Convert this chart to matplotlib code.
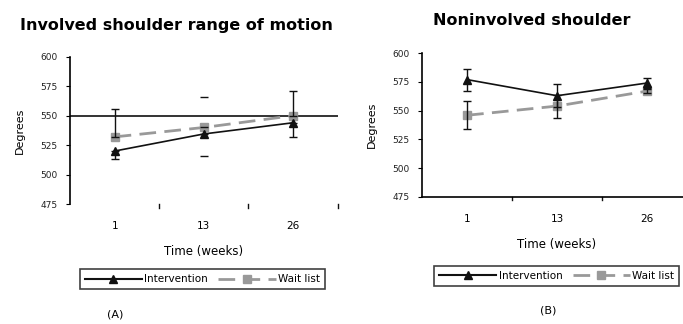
import numpy as np
import matplotlib
matplotlib.use("Agg")
import matplotlib.pyplot as plt
from matplotlib.lines import Line2D

weeks = ["1", "13", "26"]
y_ticks = [475, 500, 525, 550, 575, 600]

# (A) involved shoulder
inv_int = [520, 534.5, 544]
inv_int_err = [7, 19, 12]          # drawn downwards
inv_wait = [532, 540, 550]
inv_wait_err = [24, 25.5, 21]      # drawn upwards

# (B) noninvolved shoulder
non_int = [577, 563, 574]
non_int_err = [9.5, 10, 4]
non_wait = [546, 554, 567]
non_wait_err = [12, 10, 2]

plt.rcParams['font.family'] = ['DejaVu Sans']
fig = plt.figure(figsize=(6.83, 3.24), dpi=100)
x = np.arange(1, len(weeks) + 1)

blk = "#111111"
gry = "#999999"


def style_axes(ax):
    ax.set_xlim(0.5, 3.5)
    ax.set_ylim(475, 600)
    ax.set_yticks(y_ticks)
    ax.set_yticklabels([str(v) for v in y_ticks], fontsize=6.5, color="#222222")
    ax.set_xticks(x)
    ax.set_xticklabels(weeks, fontsize=7.5)
    ax.tick_params(axis="x", length=0, pad=12)
    ax.tick_params(axis="y", length=3, width=0.8, pad=6)
    for s in ["top", "right"]:
        ax.spines[s].set_visible(False)
    ax.spines["left"].set_linewidth(1.2)
    ax.set_xlabel("Time (weeks)", fontsize=8.5, labelpad=10)
    ax.set_ylabel("Degrees", fontsize=8, labelpad=11)
    # category boundary ticks
    for b in [1.5, 2.5, 3.5]:
        ax.plot([b, b], [475, 472], color=blk, lw=1, clip_on=False)


# ---------------- (A)
axA = fig.add_axes([0.1025, 0.37, 0.392, 0.455])
style_axes(axA)
axA.spines["bottom"].set_visible(False)
axA.axhline(550, color=blk, lw=1.2, zorder=1)

axA.plot(x, inv_wait, color=gry, lw=2, ls=(0, (6, 3)), marker="s", ms=6, zorder=2)
axA.plot(x, inv_int, color=blk, lw=1.2, marker="^", ms=6, zorder=3)
for i in range(len(x)):
    elw = 0 if i == 1 else 1
    axA.errorbar(x[i], inv_int[i], yerr=[[inv_int_err[i]], [0]], fmt="none",
                 ecolor=blk, elinewidth=elw, capsize=3, capthick=1, zorder=4)
    axA.errorbar(x[i], inv_wait[i], yerr=[[0], [inv_wait_err[i]]], fmt="none",
                 ecolor=blk, elinewidth=elw, capsize=3, capthick=1, zorder=4)

# ---------------- (B)
axB = fig.add_axes([0.618, 0.392, 0.395, 0.444])
style_axes(axB)
axB.spines["bottom"].set_linewidth(1.2)

axB.plot(x, non_wait, color=gry, lw=2, ls=(0, (6, 3)), marker="s", ms=6, zorder=2)
axB.plot(x, non_int, color=blk, lw=1.2, marker="^", ms=6, zorder=3)
axB.errorbar(x, non_int, yerr=non_int_err, fmt="none", ecolor=blk,
             elinewidth=1, capsize=3, capthick=1, zorder=4)
axB.errorbar(x, non_wait, yerr=non_wait_err, fmt="none", ecolor=blk,
             elinewidth=1, capsize=3, capthick=1, zorder=4)

# titles
fig.text(0.258, 0.92, "Involved shoulder range of motion", ha="center",
         va="center", fontsize=11.5, fontweight="bold")
fig.text(0.778, 0.937, "Noninvolved shoulder", ha="center",
         va="center", fontsize=11.5, fontweight="bold")

# legends
handles = [Line2D([], [], color=blk, lw=1.5, marker="^", ms=6),
           Line2D([], [], color=gry, lw=2, ls=(0, (6, 3)), marker="s", ms=6)]
labels = ["Intervention", "Wait list"]
for cx, cy in [(0.296, 0.138), (0.815, 0.148)]:
    leg = fig.legend(handles, labels, loc="center", bbox_to_anchor=(cx, cy),
                     ncol=2, fontsize=7.5, frameon=True, fancybox=False,
                     handlelength=5.5, columnspacing=1.0, handletextpad=0.2,
                     borderpad=0.5)
    leg.get_frame().set_edgecolor(blk)
    leg.get_frame().set_linewidth(1.2)

fig.text(0.168, 0.028, "(A)", ha="center", va="center", fontsize=8)
fig.text(0.802, 0.043, "(B)", ha="center", va="center", fontsize=8)

fig.savefig("out.png", dpi=100)
